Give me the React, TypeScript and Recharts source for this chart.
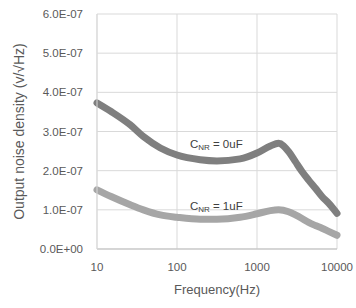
import React from 'react';
import {
  LineChart,
  Line,
  XAxis,
  YAxis,
  CartesianGrid,
  ReferenceDot,
} from 'recharts';

// frequency points (Hz)
const frequencies = [
  10, 15, 26, 38, 62, 100, 195, 316, 615, 1000, 1470, 1860, 2480, 3020, 3650, 4420, 5370, 6490, 7850, 10000,
];
// C_NR = 0uF (v/√Hz)
const noise0uF = [
  3.73e-7, 3.51e-7, 3.17e-7, 2.87e-7, 2.58e-7, 2.4e-7, 2.28e-7, 2.25e-7, 2.3e-7, 2.45e-7,
  2.63e-7, 2.7e-7, 2.49e-7, 2.23e-7, 1.98e-7, 1.76e-7, 1.55e-7, 1.34e-7, 1.17e-7, 0.91e-7,
];
// C_NR = 1uF (v/√Hz)
const noise1uF = [
  1.51e-7, 1.34e-7, 1.13e-7, 1.0e-7, 0.87e-7, 0.81e-7, 0.76e-7, 0.76e-7, 0.81e-7, 0.9e-7,
  0.98e-7, 1.0e-7, 0.95e-7, 0.87e-7, 0.78e-7, 0.68e-7, 0.6e-7, 0.53e-7, 0.45e-7, 0.35e-7,
];

const xTicks = [10, 100, 1000, 10000];
const yTicks = [0, 1e-7, 2e-7, 3e-7, 4e-7, 5e-7, 6e-7];

const data = frequencies.map((f, i) => ({ f, a: noise0uF[i], b: noise1uF[i] }));

const font = '"Liberation Sans", Arial, sans-serif';
const textColor = '#595959';

function sci(v: number) {
  if (v === 0) return '0.0E+00';
  const [m, e] = v.toExponential(1).split('e');
  const n = parseInt(e, 10);
  const sign = n < 0 ? '-' : '+';
  return `${m}E${sign}${String(Math.abs(n)).padStart(2, '0')}`;
}

const Note = ({ viewBox, value }: any) => {
  const cx = viewBox.x + viewBox.width / 2;
  const cy = viewBox.y + viewBox.height / 2;
  return (
    <text x={cx} y={cy} textAnchor="middle" dominantBaseline="central" fill="#404040" fontSize={11.5} fontFamily={font}>
      C<tspan fontSize={8} dy={3}>NR</tspan>
      <tspan dy={-3}>{` = ${value}`}</tspan>
    </text>
  );
};

const App = () => {
  return (
    <div style={{ position: 'absolute', left: 0, top: 0 }}>
      <LineChart width={356} height={308} data={data} margin={{ top: 14, right: 19, bottom: 0, left: 0 }}>
        <CartesianGrid stroke="#d9d9d9" strokeWidth={1} />
        <XAxis
          dataKey="f"
          type="number"
          scale="log"
          domain={[10, 10000]}
          ticks={xTicks}
          height={59}
          axisLine={{ stroke: '#bfbfbf' }}
          tickLine={false}
          tickSize={14}
          tickMargin={0}
          tick={{ fill: textColor, fontSize: 11.5, fontFamily: font }}
          label={{
            content: ({ viewBox }: any) => (
              <text
                x={viewBox.x + viewBox.width / 2}
                y={viewBox.y + 45}
                textAnchor="middle"
                fill={textColor}
                fontSize={13}
                fontFamily={font}
              >
                Frequency(Hz)
              </text>
            ),
          }}
        />
        <YAxis
          type="number"
          domain={[0, 6e-7]}
          ticks={yTicks}
          width={97}
          axisLine={{ stroke: '#d9d9d9' }}
          tickLine={false}
          tickSize={14}
          tickMargin={0}
          tickFormatter={sci}
          tick={{ fill: textColor, fontSize: 11.5, fontFamily: font }}
          label={{
            content: ({ viewBox }: any) => {
              const x = viewBox.x + 19;
              const y = viewBox.y + viewBox.height / 2;
              return (
                <text
                  x={x}
                  y={y}
                  transform={`rotate(-90, ${x}, ${y})`}
                  textAnchor="middle"
                  dominantBaseline="central"
                  fill={textColor}
                  fontSize={14}
                  fontFamily={font}
                >
                  Output noise density (v/√Hz)
                </text>
              );
            },
          }}
        />
        <Line
          type="monotone"
          dataKey="a"
          stroke="#7f7f7f"
          strokeWidth={7}
          strokeLinecap="round"
          dot={false}
          isAnimationActive={false}
        />
        <Line
          type="monotone"
          dataKey="b"
          stroke="#a6a6a6"
          strokeWidth={7}
          strokeLinecap="round"
          dot={false}
          isAnimationActive={false}
        />
        <ReferenceDot x={310} y={2.68e-7} r={0} ifOverflow="visible" label={{ content: (p: any) => <Note {...p} value="0uF" /> }} />
        <ReferenceDot x={310} y={1.1e-7} r={0} ifOverflow="visible" label={{ content: (p: any) => <Note {...p} value="1uF" /> }} />
      </LineChart>
    </div>
  );
};

export default App;
